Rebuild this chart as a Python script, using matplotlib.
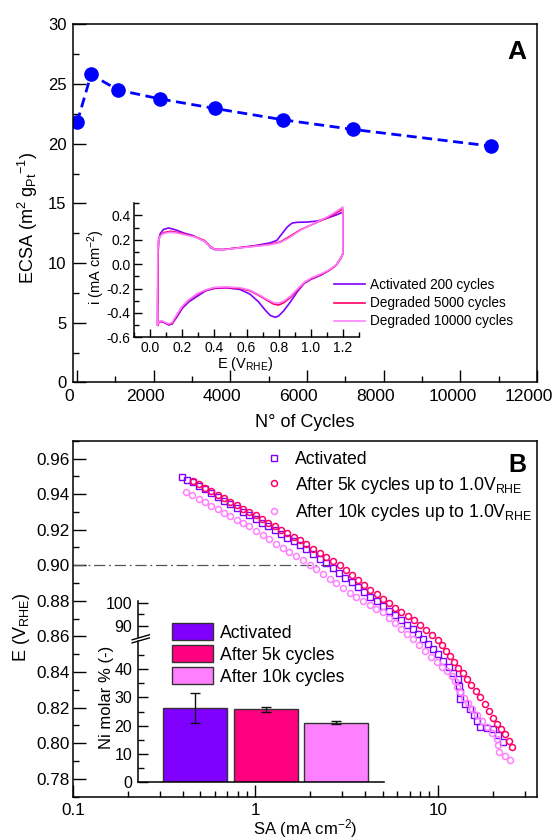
import matplotlib
matplotlib.use("Agg")
import matplotlib.pyplot as plt
from matplotlib.transforms import ScaledTranslation
from matplotlib.ticker import MultipleLocator, LogLocator, NullFormatter, FormatStrFormatter, FixedLocator, FixedFormatter

plt.rcParams["font.family"] = ["Liberation Sans", "DejaVu Sans"]
plt.rcParams["mathtext.fontset"] = "custom"
plt.rcParams["mathtext.rm"] = "Liberation Sans"
plt.rcParams["mathtext.it"] = "Liberation Sans"
plt.rcParams["mathtext.bf"] = "Liberation Sans:bold"
plt.rcParams["mathtext.default"] = "regular"
plt.rcParams["axes.unicode_minus"] = False
plt.rcParams["axes.linewidth"] = 1.1

# ---------------- Panel A: ECSA vs number of cycles
cycles = [10, 370, 1070, 2170, 3600, 5380, 7190, 10800]
ecsa = [21.8, 25.8, 24.5, 23.75, 22.95, 22.0, 21.2, 19.8]

# CV inset (E in V_RHE, i in mA cm-2)
cv_labels = ["Activated 200 cycles", "Degraded 5000 cycles", "Degraded 10000 cycles"]
cv_colors = ["#8000FF", "#FF0066", "#FF80FF"]

cv_E_act = [0.046, 0.048, 0.050, 0.053, 0.057, 0.063, 0.084, 0.116, 0.137, 0.168, 0.21, 0.263,
            0.305, 0.337, 0.358, 0.379, 0.40, 0.453, 0.558, 0.663, 0.747, 0.789, 0.821, 0.853,
            0.884, 0.916, 0.979, 1.042, 1.105, 1.168, 1.20,
            1.20, 1.185, 1.158, 1.116, 1.063, 1.0, 0.958, 0.916, 0.874, 0.832, 0.80, 0.779,
            0.747, 0.716, 0.674, 0.621, 0.558, 0.474, 0.40, 0.347, 0.295, 0.242, 0.20, 0.168,
            0.137, 0.116, 0.095, 0.074, 0.057, 0.046]
cv_i_act = [-0.50, -0.20, 0.10, 0.20, 0.22, 0.25, 0.286, 0.297, 0.29, 0.278, 0.256, 0.237,
            0.21, 0.19, 0.164, 0.134, 0.12, 0.12, 0.136, 0.155, 0.175, 0.196, 0.25, 0.305,
            0.338, 0.344, 0.346, 0.355, 0.379, 0.409, 0.428,
            0.087, 0.046, -0.008, -0.049, -0.09, -0.125, -0.158, -0.226, -0.308, -0.382, -0.425, -0.436,
            -0.42, -0.376, -0.308, -0.245, -0.207, -0.194, -0.199, -0.218, -0.262, -0.308, -0.363, -0.431,
            -0.491, -0.499, -0.485, -0.472, -0.475, -0.50]

cv_E_5k = [0.046, 0.048, 0.05, 0.053, 0.057, 0.063, 0.084, 0.126, 0.168, 0.221, 0.284, 0.337,
           0.368, 0.40, 0.453, 0.558, 0.663, 0.747, 0.811, 0.863, 0.937, 1.021, 1.105, 1.168, 1.20,
           1.20, 1.185, 1.158, 1.116, 1.063, 1.0, 0.958, 0.916, 0.874, 0.832, 0.80, 0.768,
           0.726, 0.674, 0.621, 0.558, 0.474, 0.40, 0.347, 0.295, 0.242, 0.20, 0.168, 0.137,
           0.116, 0.095, 0.074, 0.057, 0.046]
cv_i_5k = [-0.50, -0.20, 0.10, 0.19, 0.21, 0.235, 0.259, 0.27, 0.262, 0.245, 0.224, 0.196,
           0.155, 0.123, 0.12, 0.136, 0.15, 0.164, 0.183, 0.224, 0.284, 0.333, 0.382, 0.428, 0.455,
           0.087, 0.046, -0.008, -0.049, -0.085, -0.12, -0.153, -0.213, -0.273, -0.316, -0.335, -0.327,
           -0.295, -0.254, -0.218, -0.199, -0.191, -0.194, -0.213, -0.245, -0.295, -0.349, -0.417, -0.485,
           -0.494, -0.48, -0.468, -0.472, -0.50]

cv_E_10k = [0.044, 0.046, 0.048, 0.051, 0.055, 0.062, 0.084, 0.126, 0.168, 0.221, 0.284, 0.337,
            0.368, 0.40, 0.453, 0.558, 0.663, 0.747, 0.811, 0.863, 0.937, 1.021, 1.105, 1.168, 1.20,
            1.20, 1.185, 1.158, 1.116, 1.063, 1.0, 0.958, 0.916, 0.874, 0.832, 0.80, 0.768,
            0.726, 0.674, 0.621, 0.558, 0.474, 0.40, 0.347, 0.295, 0.242, 0.20, 0.168, 0.137,
            0.116, 0.095, 0.074, 0.057, 0.044]
cv_i_10k = [-0.50, -0.20, 0.10, 0.18, 0.205, 0.23, 0.252, 0.262, 0.256, 0.24, 0.222, 0.19,
            0.15, 0.12, 0.118, 0.134, 0.148, 0.16, 0.178, 0.215, 0.28, 0.335, 0.39, 0.44, 0.47,
            0.09, 0.05, -0.005, -0.045, -0.08, -0.115, -0.15, -0.205, -0.262, -0.303, -0.32, -0.315,
            -0.287, -0.248, -0.212, -0.193, -0.186, -0.19, -0.21, -0.24, -0.29, -0.345, -0.41, -0.478,
            -0.49, -0.478, -0.465, -0.47, -0.50]

# ---------------- Panel B: polarisation (SA vs E)
sa_act = [0.395, 0.423, 0.452, 0.490, 0.530, 0.574, 0.622, 0.673, 0.729, 0.791, 0.855,
          0.927, 1.005, 1.087, 1.178, 1.274, 1.380, 1.493, 1.618, 1.750, 1.901, 2.070, 2.249,
          2.449, 2.661, 2.877, 3.119, 3.373, 3.648, 3.945, 4.276, 4.624, 5.000, 5.395, 5.834,
          6.295, 6.808, 7.345, 7.834, 8.337, 8.892, 9.462, 10.09, 10.74, 11.46, 12.19, 12.97,
          13.09, 13.18, 13.30, 14.19, 15.10, 15.74, 16.41, 17.10, 18.58, 20.18, 21.48, 22.80]
e_act = [0.9494, 0.9482, 0.9469, 0.9448, 0.9427, 0.9406, 0.9385, 0.9364, 0.9343, 0.9322, 0.9301,
         0.9280, 0.9259, 0.9239, 0.9218, 0.9198, 0.9177, 0.9156, 0.9136, 0.9115, 0.9089, 0.9063, 0.9037,
         0.9011, 0.8985, 0.8958, 0.8931, 0.8904, 0.8877, 0.8851, 0.8824, 0.8797, 0.8770, 0.8744, 0.8718,
         0.8692, 0.8666, 0.8640, 0.8612, 0.8584, 0.8556, 0.8528, 0.8500, 0.8465, 0.8430, 0.8395, 0.8360,
         0.8323, 0.8287, 0.8250, 0.8220, 0.8190, 0.8157, 0.8123, 0.8090, 0.8085, 0.8080, 0.8045, 0.8010]

sa_5k = [0.452, 0.490, 0.530, 0.574, 0.622, 0.673, 0.729, 0.791, 0.855, 0.927, 1.005, 1.087,
         1.178, 1.274, 1.380, 1.493, 1.618, 1.750, 1.905, 2.070, 2.254, 2.449, 2.667, 2.897,
         3.133, 3.388, 3.664, 3.954, 4.276, 4.624, 5.000, 5.408, 5.848, 6.324, 6.839, 7.396,
         7.998, 8.630, 9.333, 10.09, 10.59, 11.14, 11.70, 12.33, 12.97, 13.68, 14.39, 15.24,
         16.14, 17.10, 18.07, 19.10, 20.18, 21.23, 22.34, 23.50, 24.49, 25.53]
e_5k = [0.9473, 0.9454, 0.9435, 0.9415, 0.9396, 0.9377, 0.9358, 0.9338, 0.9319, 0.9300, 0.9280, 0.9260,
        0.9240, 0.9220, 0.9200, 0.9180, 0.9160, 0.9140, 0.9117, 0.9093, 0.9070, 0.9047, 0.9023, 0.9000,
        0.8973, 0.8946, 0.8919, 0.8891, 0.8864, 0.8837, 0.8810, 0.8786, 0.8762, 0.8738, 0.8714, 0.8690,
        0.8663, 0.8635, 0.8608, 0.8580, 0.8550, 0.8520, 0.8490, 0.8458, 0.8425, 0.8393, 0.8360, 0.8327,
        0.8293, 0.8260, 0.8220, 0.8180, 0.8140, 0.8110, 0.8080, 0.8050, 0.8015, 0.7980]

sa_10k = [0.416, 0.451, 0.489, 0.528, 0.573, 0.621, 0.673, 0.729, 0.789, 0.855, 0.927, 1.009,
          1.096, 1.194, 1.300, 1.413, 1.538, 1.675, 1.820, 1.982, 2.158, 2.344, 2.553, 2.780,
          3.020, 3.289, 3.573, 3.890, 4.227, 4.603, 5.000, 5.395, 5.834, 6.295, 6.808, 7.345,
          7.907, 8.492, 9.141, 9.840, 10.50, 11.17, 11.91, 12.36, 12.82, 13.30, 13.96, 14.69,
          15.42, 16.41, 17.50, 18.62, 19.82, 21.09, 21.33, 21.58, 23.23, 25.00]
e_10k = [0.9413, 0.9394, 0.9374, 0.9355, 0.9335, 0.9316, 0.9296, 0.9277, 0.9257, 0.9238, 0.9218, 0.9194,
         0.9170, 0.9146, 0.9122, 0.9099, 0.9075, 0.9051, 0.9027, 0.9003, 0.8977, 0.8950, 0.8924, 0.8898,
         0.8871, 0.8845, 0.8823, 0.8801, 0.8779, 0.8757, 0.8735, 0.8705, 0.8675, 0.8644, 0.8614, 0.8584,
         0.8552, 0.8519, 0.8487, 0.8454, 0.8429, 0.8405, 0.8380, 0.8349, 0.8317, 0.8286, 0.8255, 0.8224,
         0.8193, 0.8159, 0.8124, 0.8090, 0.8058, 0.8025, 0.7988, 0.7950, 0.7928, 0.7906]

pol_labels = ["Activated", "After 5k cycles up to 1.0V$_{RHE}$", "After 10k cycles up to 1.0V$_{RHE}$"]
pol_colors = ["#8000FF", "#FF0066", "#FF80FF"]
ref_E = 0.90
ref_SA_end = 2.9

# Ni content inset
ni_labels = ["Activated", "After 5k cycles", "After 10k cycles"]
ni_values = [26.2, 25.8, 21.1]
ni_err = [5.4, 0.8, 0.4]
ni_colors = ["#8000FF", "#FF0080", "#FF80FF"]


def style(ax, fs, major, minor, pad):
    ax.tick_params(which="both", direction="in", top=False, right=False, width=1.0,
                   labelsize=fs, pad=pad)
    ax.tick_params(which="major", length=major)
    ax.tick_params(which="minor", length=minor)


fig = plt.figure(figsize=(5.57, 8.38), dpi=100)

# ---- Panel A
axA = fig.add_axes([0.1311, 0.5436, 0.833, 0.4274])
axA.plot(cycles, ecsa, color="#0000FF", lw=2.0, dashes=(3.6, 2.0), marker="o", ms=9.5)
axA.set_xlim(-100, 12000)
axA.set_ylim(0, 30)
axA.xaxis.set_major_locator(MultipleLocator(2000))
axA.xaxis.set_minor_locator(MultipleLocator(1000))
axA.yaxis.set_major_locator(MultipleLocator(5))
axA.yaxis.set_minor_locator(MultipleLocator(2.5))
style(axA, 12, 9, 4.5, 4.7)
axA.tick_params(axis="x", labelsize=12.6, pad=4.7)
# x tick labels in the original sit a little to the left of their ticks
shift = ScaledTranslation(-8 / 100, 0, fig.dpi_scale_trans)
for lab in axA.get_xticklabels():
    lab.set_transform(lab.get_transform() + shift)
axA.set_xlabel("N° of Cycles", fontsize=13)
axA.set_ylabel("ECSA (m$^{2}$ g$_{Pt}$$^{-1}$)", fontsize=13)
axA.yaxis.set_label_coords(-0.072, 0.46)
axA.xaxis.set_label_coords(0.5, -0.088)
axA.text(0.957, 0.9235, "A", transform=axA.transAxes, fontsize=19, fontweight="bold",
         ha="center", va="center")

# ---- CV inset
axI = fig.add_axes([0.2406, 0.5975, 0.4039, 0.1599])
for E, i, c, lab in zip([cv_E_act, cv_E_5k, cv_E_10k], [cv_i_act, cv_i_5k, cv_i_10k],
                        cv_colors, cv_labels):
    axI.plot(E, i, color=c, lw=1.2, label=lab)
axI.set_xlim(-0.1, 1.3)
axI.set_ylim(-0.6, 0.5)
axI.spines["top"].set_visible(False)
axI.spines["right"].set_visible(False)
axI.xaxis.set_major_locator(FixedLocator([0.0, 0.2, 0.4, 0.6, 0.8, 1.0, 1.2]))
axI.xaxis.set_minor_locator(MultipleLocator(0.1))
axI.yaxis.set_major_locator(FixedLocator([-0.6, -0.4, -0.2, 0.0, 0.2, 0.4]))
axI.yaxis.set_minor_locator(MultipleLocator(0.1))
axI.xaxis.set_major_formatter(FormatStrFormatter("%.1f"))
axI.yaxis.set_major_formatter(FormatStrFormatter("%.1f"))
style(axI, 10, 6, 3.5, 2.5)
axI.set_xlabel("E (V$_{RHE}$)", fontsize=10.5)
axI.set_ylabel("i (mA cm$^{-2}$)", fontsize=10.5)
axI.xaxis.set_label_coords(0.493, -0.13)
axI.yaxis.set_label_coords(-0.118, 0.525)
axI.legend(loc="center left", bbox_to_anchor=(334 / 557, 1 - 303.3 / 838),
           bbox_transform=fig.transFigure, frameon=False, fontsize=9.8,
           handlelength=2.3, handletextpad=0.35, labelspacing=0.3, borderpad=0,
           borderaxespad=0)

# ---- Panel B
axB = fig.add_axes([0.1311, 0.0493, 0.833, 0.4248])
axB.set_xscale("log")
axB.plot([0.1, ref_SA_end], [ref_E, ref_E], color="#555555", lw=0.9,
         dashes=(9, 3, 1.5, 3))
axB.plot(sa_act, e_act, ls="none", marker="s", ms=3.8, mfc="none", mec=pol_colors[0],
         mew=1.0, label=pol_labels[0])
axB.plot(sa_5k, e_5k, ls="none", marker="o", ms=4.3, mfc="none", mec=pol_colors[1],
         mew=1.1, label=pol_labels[1])
axB.plot(sa_10k, e_10k, ls="none", marker="o", ms=4.3, mfc="none", mec=pol_colors[2],
         mew=1.1, label=pol_labels[2])
axB.set_xlim(0.1, 35)
axB.set_ylim(0.77, 0.97)
axB.xaxis.set_major_locator(FixedLocator([0.1, 1, 10]))
axB.xaxis.set_major_formatter(FixedFormatter(["0.1", "1", "10"]))
axB.xaxis.set_minor_locator(LogLocator(base=10, subs=[2, 3, 4, 5, 6, 7, 8, 9]))
axB.xaxis.set_minor_formatter(NullFormatter())
axB.yaxis.set_major_locator(MultipleLocator(0.02))
axB.yaxis.set_minor_locator(MultipleLocator(0.01))
axB.yaxis.set_major_formatter(FormatStrFormatter("%.2f"))
style(axB, 12.3, 9, 4.5, 2.4)
axB.tick_params(axis="x", pad=4.5)
axB.set_xlabel("SA (mA cm$^{-2}$)", fontsize=12)
axB.set_ylabel("E (V$_{RHE}$)", fontsize=13)
axB.xaxis.set_label_coords(0.5, -0.056)
axB.yaxis.set_label_coords(-0.089, 0.475)
axB.text(0.958, 0.932, "B", transform=axB.transAxes, fontsize=18, fontweight="bold",
         ha="center", va="center")
axB.legend(loc="center left", bbox_to_anchor=(265.5 / 557, 1 - 487 / 838),
           bbox_transform=fig.transFigure, frameon=False, fontsize=12.7,
           handlelength=1.0, handletextpad=0.65, labelspacing=0.36, borderpad=0,
           borderaxespad=0, numpoints=1)

# ---- Ni content inset (broken y axis)
xpos = list(range(len(ni_values)))
axN = fig.add_axes([0.2483, 0.06647, 0.4411, 0.1689])
axN.patch.set_alpha(0)
axN.bar(xpos, ni_values, width=0.91, color=ni_colors, edgecolor="#333333", lw=1.0,
        yerr=ni_err, capsize=3.5, error_kw=dict(ecolor="#111111", elinewidth=1.0, capthick=1.0))
axN.set_xlim(-0.81, 2.68)
axN.set_ylim(0, 50)
axN.spines["top"].set_visible(False)
axN.spines["right"].set_visible(False)
axN.set_xticks([])
axN.yaxis.set_major_locator(FixedLocator([0, 10, 20, 30, 40]))
axN.yaxis.set_minor_locator(FixedLocator([5, 15, 25, 35, 45]))
style(axN, 11.5, 7.5, 4, 4.5)

axU = fig.add_axes([0.2483, 0.2396, 0.4411, 0.0438])
axU.patch.set_alpha(0)
axU.set_ylim(85, 101)
axU.set_xlim(-0.81, 2.68)
for s in ["top", "right", "bottom"]:
    axU.spines[s].set_visible(False)
axU.set_xticks([])
axU.yaxis.set_major_locator(FixedLocator([90, 100]))
axU.yaxis.set_minor_locator(FixedLocator([95]))
style(axU, 11.5, 7.5, 4, 4.5)

# break marks on the inset y axis
for dy in (0.0, 0.022):
    axN.plot([-0.025, 0.045], [0.985 + dy, 1.02 + dy], transform=axN.transAxes,
             color="black", lw=1.0, clip_on=False)

fig.text(107 / 557, 1 - 697 / 838, "Ni molar % (-)", rotation=90, fontsize=12,
         ha="center", va="center")

handles = [plt.Rectangle((0, 0), 1, 1, facecolor=c, edgecolor="#333333", lw=1.0)
           for c in ni_colors]
axN.legend(handles, ni_labels, loc="center left", bbox_to_anchor=(172.3 / 557, 1 - 654.7 / 838),
           bbox_transform=fig.transFigure, frameon=False, fontsize=12.7,
           handlelength=2.3, handleheight=1.1, handletextpad=0.4, labelspacing=0.2,
           borderpad=0, borderaxespad=0)

fig.savefig("out.png", dpi=100)
